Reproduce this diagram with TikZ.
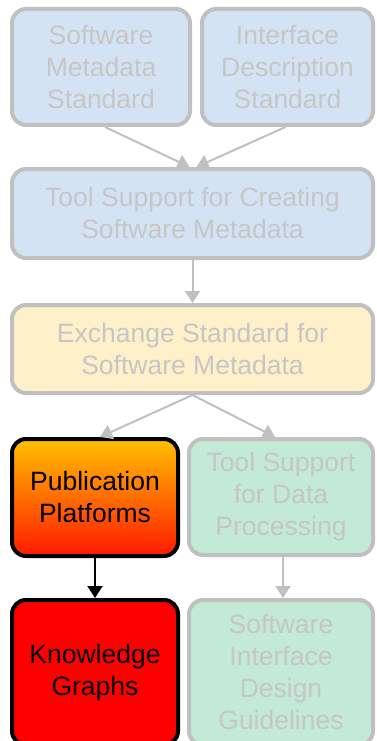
\documentclass[tikz,border=0pt]{standalone}
\usepackage{fontspec}
\setmainfont{Liberation Sans}
\usetikzlibrary{arrows.meta}

\definecolor{boxgray}{HTML}{C0C0C0}
\definecolor{fadetext}{HTML}{C6C6C6}
\definecolor{bluefill}{HTML}{D4E3F4}
\definecolor{yellowfill}{HTML}{FEF0C8}
\definecolor{greenfill}{HTML}{C2EAD6}
\definecolor{pubtop}{HTML}{FFC000}
\definecolor{pubbottom}{HTML}{FF1A00}

\begin{document}
\begin{tikzpicture}[x=1pt,y=-1pt,
    every node/.style={draw=boxgray,line width=4pt,rounded corners=14pt,
        align=center,inner sep=0pt,text=fadetext,
        font=\fontsize{26.5}{32}\selectfont},
    edge/.style={draw=boxgray,line width=2pt,-{Triangle[length=12pt,width=15pt]}}]
    \clip (0,0) rectangle (376,741);

    % nodes
    \node[fill=bluefill,minimum width=178,minimum height=116] (sms) at (101,67)
        {Software\\Metadata\\Standard};
    \node[fill=bluefill,minimum width=171,minimum height=116] (ids) at (287.5,67)
        {Interface\\Description\\Standard};
    \node[fill=bluefill,minimum width=361,minimum height=89] (tool) at (192.5,213.5)
        {Tool Support for Creating\\Software Metadata};
    \node[fill=yellowfill,minimum width=361,minimum height=88] (exch) at (192.5,349)
        {Exchange Standard for\\Software Metadata};

    \node[draw=black,text=black,top color=pubtop,bottom color=pubbottom,
        minimum width=166,minimum height=117] (pub) at (95,497.5)
        {Publication\\Platforms};
    \node[fill=greenfill,minimum width=184,minimum height=116] (data) at (281,497)
        {Tool Support\\for Data\\Processing};

    \node[draw=black,text=black,fill=red,minimum width=166,minimum height=145] (kg) at (95,672.5)
        {Knowledge\\Graphs};
    \node[fill=greenfill,minimum width=184,minimum height=145] (guide) at (281,672.5)
        {Software\\Interface\\Design\\Guidelines};

    % edges
    \draw[edge] ([xshift=4pt]sms.south) -- ([xshift=-3pt]tool.north);
    \draw[edge] ([xshift=-2pt]ids.south) -- ([xshift=4pt]tool.north);
    \draw[edge] (tool) -- (exch);
    \draw[edge] (exch.south) -- ([xshift=5pt]pub.north);
    \draw[edge] (exch.south) -- ([xshift=-6pt]data.north);
    \draw[edge,draw=black] (pub) -- (kg);
    \draw[edge] ([xshift=2pt]data.south) -- ([xshift=2pt]guide.north);
\end{tikzpicture}
\end{document}
